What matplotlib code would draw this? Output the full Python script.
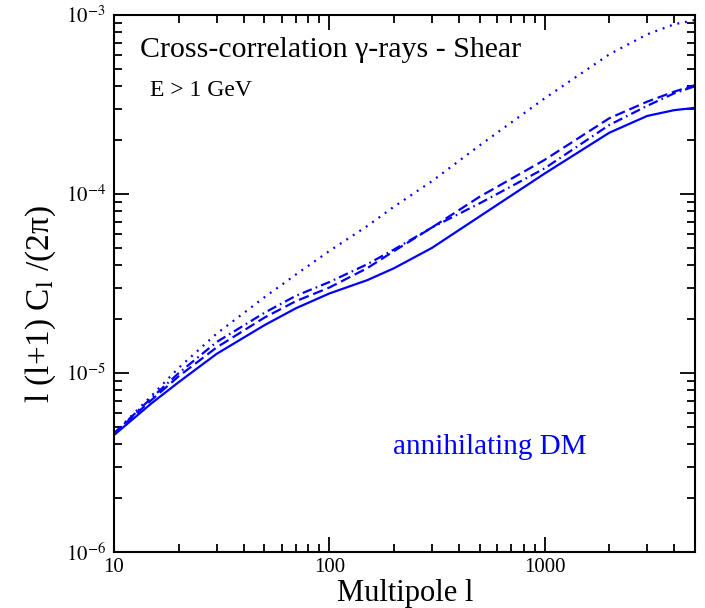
import numpy as np
import matplotlib
matplotlib.use("Agg")
import matplotlib.pyplot as plt
from matplotlib.ticker import LogLocator, NullFormatter

plt.rcParams['font.family'] = ['Liberation Serif', 'DejaVu Serif']
plt.rcParams['mathtext.fontset'] = 'stix'
plt.rcParams['lines.scale_dashes'] = False

# multipole values
ell = [10, 15, 20, 30, 50, 70, 100, 150, 200, 300, 500, 1000, 2000, 3000, 4000, 5000]

cl_solid = [4.5e-6, 6.8e-6, 8.9e-6, 1.28e-5, 1.85e-5, 2.3e-5, 2.78e-5, 3.3e-5, 3.85e-5,
            5.0e-5, 7.5e-5, 1.3e-4, 2.2e-4, 2.73e-4, 2.94e-4, 3.03e-4]
cl_dashed = [4.6e-6, 7.1e-6, 9.6e-6, 1.39e-5, 2.04e-5, 2.52e-5, 3.0e-5, 3.85e-5, 4.8e-5,
             6.5e-5, 9.66e-5, 1.55e-4, 2.65e-4, 3.28e-4, 3.73e-4, 4.06e-4]
cl_dashdot = [4.6e-6, 7.3e-6, 1.0e-5, 1.49e-5, 2.17e-5, 2.7e-5, 3.22e-5, 4.05e-5, 4.9e-5,
              6.5e-5, 8.87e-5, 1.39e-4, 2.43e-4, 3.11e-4, 3.65e-4, 4.0e-4]
cl_dotted = [4.6e-6, 7.5e-6, 1.07e-5, 1.66e-5, 2.65e-5, 3.55e-5, 4.8e-5, 6.62e-5, 8.5e-5,
             1.18e-4, 1.87e-4, 3.42e-4, 6.03e-4, 7.8e-4, 8.87e-4, 9.38e-4]

blue = '#0000ff'

fig = plt.figure(figsize=(7.05, 6.08), dpi=100)
ax = fig.add_axes([114/705, 1-552/608, (695-114)/705, (552-15)/608])

lw = 1.6
ax.plot(ell, cl_solid, color=blue, lw=lw, ls='-')
ax.plot(ell, cl_dashed, color=blue, lw=lw, dashes=(7.5, 3.5))
ax.plot(ell, cl_dashdot, color=blue, lw=lw, dashes=(7.0, 3.0, 1.2, 3.0))
ax.plot(ell, cl_dotted, color=blue, lw=lw, dashes=(1.4, 4.2))

ax.set_xscale('log')
ax.set_yscale('log')
ax.set_xlim(10, 5000)
ax.set_ylim(1e-6, 1e-3)

ax.xaxis.set_minor_locator(LogLocator(base=10, subs=np.arange(2, 10), numticks=20))
ax.yaxis.set_minor_locator(LogLocator(base=10, subs=np.arange(2, 10), numticks=20))
ax.xaxis.set_minor_formatter(NullFormatter())
ax.yaxis.set_minor_formatter(NullFormatter())
ax.set_xticks([10, 100, 1000])
ax.set_xticklabels(['10', '100', '1000'])
ax.set_yticks([1e-6, 1e-5, 1e-4, 1e-3])
ax.set_yticklabels([r'$10^{-6}$', r'$10^{-5}$', r'$10^{-4}$', r'$10^{-3}$'])

ax.tick_params(which='both', direction='in', top=True, right=True, width=1.3, labelsize=15)
ax.tick_params(which='major', length=10.5)
ax.tick_params(axis='x', which='major', pad=4)
ax.tick_params(axis='y', which='major', pad=6)
ax.tick_params(which='minor', length=5.5)
for s in ax.spines.values():
    s.set_linewidth(1.5)

ax.set_xlabel('Multipole l', fontsize=22, va='center')
ax.xaxis.set_label_coords(0.501, -0.077)
ax.set_ylabel(r'l (l+1) C$_{\mathrm{l}}$ /(2π)', fontsize=24, va='center')
ax.yaxis.set_label_coords(-0.126, 0.462)

ax.text(0.045, 0.935, 'Cross-correlation γ-rays - Shear', transform=ax.transAxes,
        fontsize=21.5, va='center', ha='left')
ax.text(0.062, 0.86, 'E > 1 GeV', transform=ax.transAxes, fontsize=17,
        va='center', ha='left')
ax.text(0.48, 0.196, 'annihilating DM', transform=ax.transAxes, fontsize=21,
        va='center', ha='left', color=blue)

fig.savefig('out.png', dpi=100)
